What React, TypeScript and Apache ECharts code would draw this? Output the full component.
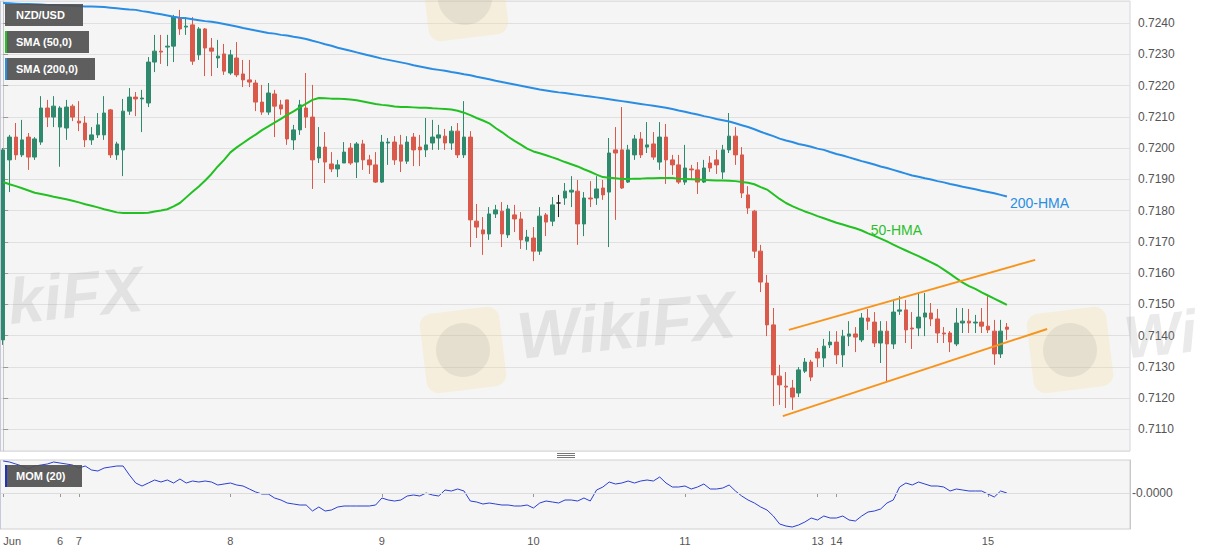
import React, { useEffect, useRef } from "react";
import * as echarts from "echarts";

const FONT = '"Liberation Sans", Arial, Helvetica, sans-serif';

// Hourly slots on the category axis (filled + empty right margin)
const SLOT_COUNT = 179;

// Day tick labels: [slot index, label]
const dayTicks: [number, string][] = [
  [0, "Jun"], [9, "6"], [12, "7"], [36, "8"], [60, "9"], [84, "10"],
  [108, "11"], [129, "13"], [132, "14"], [156, "15"],
];

// NZD/USD hourly candles: [open, close, low, high]
const candles: number[][] = [
  [0.71386, 0.71994, 0.7137, 0.72], [0.71962, 0.72035, 0.71859, 0.72042], [0.72035, 0.71978, 0.71962, 0.7208],
  [0.71978, 0.72026, 0.71971, 0.7209], [0.72035, 0.71971, 0.7193, 0.72048], [0.71971, 0.72029, 0.71962, 0.72035],
  [0.72019, 0.72128, 0.7201, 0.72166], [0.72128, 0.72099, 0.72067, 0.72154], [0.72099, 0.72134, 0.72067, 0.72166],
  [0.72067, 0.72128, 0.7194, 0.72134], [0.72064, 0.72131, 0.72026, 0.72154], [0.72134, 0.72099, 0.72086, 0.7214],
  [0.72086, 0.7208, 0.72054, 0.7215], [0.7208, 0.72026, 0.72003, 0.72102], [0.72026, 0.72042, 0.7201, 0.72067],
  [0.72042, 0.72074, 0.72032, 0.72112], [0.72042, 0.72112, 0.72026, 0.72166], [0.72122, 0.71978, 0.71968, 0.72125],
  [0.71978, 0.72013, 0.71962, 0.7202], [0.71994, 0.72118, 0.7191, 0.72157], [0.72118, 0.72163, 0.72106, 0.72192],
  [0.72163, 0.72157, 0.72102, 0.72179], [0.72157, 0.7216, 0.72051, 0.72186], [0.72144, 0.72275, 0.72131, 0.72291],
  [0.72275, 0.7231, 0.72243, 0.72362], [0.7231, 0.72307, 0.72269, 0.72362], [0.72323, 0.72326, 0.72262, 0.72362],
  [0.72326, 0.72419, 0.72275, 0.72426], [0.72416, 0.72381, 0.72362, 0.72442], [0.72387, 0.7239, 0.72362, 0.72419],
  [0.72394, 0.72278, 0.72266, 0.72419], [0.72298, 0.72381, 0.72282, 0.72387], [0.72381, 0.7232, 0.7223, 0.72384],
  [0.7232, 0.7231, 0.7223, 0.72352], [0.72288, 0.72294, 0.72256, 0.72346], [0.72301, 0.72246, 0.72234, 0.72333],
  [0.7224, 0.72298, 0.72234, 0.72314], [0.72288, 0.72234, 0.72227, 0.72339], [0.72237, 0.72218, 0.72195, 0.72282],
  [0.72218, 0.72211, 0.72195, 0.72282], [0.72208, 0.72147, 0.72118, 0.72218], [0.72147, 0.72115, 0.72106, 0.72202],
  [0.72115, 0.72176, 0.72106, 0.72208], [0.72173, 0.72134, 0.72035, 0.72186], [0.72138, 0.72125, 0.72106, 0.72154],
  [0.72154, 0.72029, 0.7201, 0.72154], [0.72026, 0.72058, 0.71994, 0.72074], [0.72058, 0.72138, 0.72042, 0.72154],
  [0.72128, 0.72099, 0.72064, 0.7224], [0.72099, 0.71962, 0.71869, 0.72202], [0.71968, 0.72003, 0.71952, 0.72067],
  [0.72003, 0.71955, 0.71888, 0.72051], [0.71949, 0.71933, 0.71923, 0.71987], [0.71933, 0.71946, 0.71907, 0.71962],
  [0.71952, 0.71987, 0.71952, 0.72019], [0.72, 0.71952, 0.71946, 0.72016], [0.71955, 0.72013, 0.71904, 0.72019],
  [0.72013, 0.71962, 0.7193, 0.72026], [0.71962, 0.71946, 0.71917, 0.71978], [0.71946, 0.71891, 0.71888, 0.71987],
  [0.71891, 0.72019, 0.71888, 0.72042], [0.72016, 0.72019, 0.71946, 0.72032], [0.72019, 0.71962, 0.71946, 0.72038],
  [0.7201, 0.71958, 0.71923, 0.72042], [0.71958, 0.72019, 0.71949, 0.72038], [0.72035, 0.71994, 0.71942, 0.72048],
  [0.72003, 0.71994, 0.71942, 0.72042], [0.71994, 0.7201, 0.71971, 0.72096], [0.72016, 0.72035, 0.71994, 0.7209],
  [0.72032, 0.72042, 0.71994, 0.72074], [0.72038, 0.72016, 0.71994, 0.72061], [0.72016, 0.72054, 0.71994, 0.7207],
  [0.72054, 0.71978, 0.71968, 0.7208], [0.71978, 0.72035, 0.71968, 0.7215], [0.72035, 0.7177, 0.71683, 0.72054],
  [0.71766, 0.71747, 0.71712, 0.71821], [0.71738, 0.71725, 0.71658, 0.71779], [0.71725, 0.71789, 0.71706, 0.71811],
  [0.71789, 0.71802, 0.71776, 0.71818], [0.71798, 0.71725, 0.71683, 0.71827], [0.71722, 0.71805, 0.71712, 0.71818],
  [0.71786, 0.71773, 0.71731, 0.71818], [0.71773, 0.71706, 0.71677, 0.71795], [0.71702, 0.71715, 0.71674, 0.71738],
  [0.71712, 0.7167, 0.71638, 0.71747], [0.7167, 0.71782, 0.71658, 0.71811], [0.71786, 0.71763, 0.71718, 0.71792],
  [0.71766, 0.71818, 0.7175, 0.71843], [0.71824, 0.71824, 0.71779, 0.7185], [0.7184, 0.71862, 0.71818, 0.71888],
  [0.71859, 0.71865, 0.71811, 0.7191], [0.71862, 0.71757, 0.7169, 0.71898], [0.71757, 0.7184, 0.71718, 0.71859],
  [0.7184, 0.71837, 0.71811, 0.71894], [0.7184, 0.71869, 0.71818, 0.7191], [0.71872, 0.7185, 0.71834, 0.71898],
  [0.71859, 0.71984, 0.71683, 0.72032], [0.71994, 0.71984, 0.7177, 0.72067], [0.71994, 0.71872, 0.71869, 0.72131],
  [0.71891, 0.71994, 0.71888, 0.7201], [0.71978, 0.72029, 0.71962, 0.72042], [0.72029, 0.71978, 0.71968, 0.72051],
  [0.72003, 0.7201, 0.71984, 0.72083], [0.72013, 0.71971, 0.71962, 0.72051], [0.71955, 0.72035, 0.7193, 0.72083],
  [0.72035, 0.71962, 0.71885, 0.72077], [0.71962, 0.71946, 0.71914, 0.71978], [0.71946, 0.71891, 0.71885, 0.71978],
  [0.71891, 0.71936, 0.71882, 0.7201], [0.71933, 0.7193, 0.71898, 0.71946], [0.7193, 0.71891, 0.71853, 0.71955],
  [0.71891, 0.71936, 0.71888, 0.71962], [0.71952, 0.71936, 0.71923, 0.71974], [0.71962, 0.71946, 0.71917, 0.71994],
  [0.71923, 0.71994, 0.71901, 0.7201], [0.71994, 0.72038, 0.71984, 0.72112], [0.72038, 0.71978, 0.71946, 0.72067],
  [0.71978, 0.71856, 0.7184, 0.72003], [0.7185, 0.71808, 0.71789, 0.71878], [0.71798, 0.7167, 0.71648, 0.71802],
  [0.7167, 0.71571, 0.71539, 0.7169], [0.71568, 0.71434, 0.71398, 0.71594], [0.71434, 0.71274, 0.71174, 0.71488],
  [0.7127, 0.71242, 0.71178, 0.71306], [0.71238, 0.71235, 0.71168, 0.71283], [0.71232, 0.71203, 0.71162, 0.71258],
  [0.71216, 0.7129, 0.71203, 0.71299], [0.71286, 0.71315, 0.7128, 0.71328], [0.71315, 0.71267, 0.71254, 0.71322],
  [0.71347, 0.71328, 0.71299, 0.7136], [0.71328, 0.71366, 0.71299, 0.71389], [0.7137, 0.71379, 0.7136, 0.71414],
  [0.71379, 0.71338, 0.71309, 0.71414], [0.71338, 0.71398, 0.71299, 0.71418], [0.71398, 0.71405, 0.71366, 0.71446],
  [0.71405, 0.71395, 0.71347, 0.71427], [0.71386, 0.71456, 0.71379, 0.71472], [0.71456, 0.71446, 0.71418, 0.71485],
  [0.71443, 0.71376, 0.71363, 0.71475], [0.71376, 0.71414, 0.71312, 0.71446], [0.71414, 0.71373, 0.71254, 0.71446],
  [0.71373, 0.71475, 0.71357, 0.71514], [0.71478, 0.71482, 0.71466, 0.71526], [0.71482, 0.71418, 0.71376, 0.71514],
  [0.71424, 0.71421, 0.71357, 0.71475], [0.71424, 0.71459, 0.71398, 0.71536], [0.71459, 0.71472, 0.71398, 0.71536],
  [0.71472, 0.71453, 0.7143, 0.71504], [0.71453, 0.71408, 0.71376, 0.71485], [0.71408, 0.71405, 0.71376, 0.71427],
  [0.71408, 0.71379, 0.71347, 0.71414], [0.71373, 0.7144, 0.71366, 0.71488], [0.7144, 0.71446, 0.71408, 0.71488],
  [0.71446, 0.7144, 0.71408, 0.71485], [0.7144, 0.71443, 0.71408, 0.71466], [0.71443, 0.7143, 0.71408, 0.71488],
  [0.7143, 0.71418, 0.71408, 0.71526], [0.71414, 0.71341, 0.71306, 0.7145], [0.71341, 0.71414, 0.71328, 0.7145],
  [0.71427, 0.7142, 0.71386, 0.7144],
];

// 50-period moving average (labelled 50-HMA)
const sma50: number[] = [
  0.71891, 0.71884, 0.71878, 0.71871, 0.71864, 0.71857, 0.71853, 0.71849, 0.71844, 0.7184,
  0.71836, 0.71831, 0.71826, 0.7182, 0.71815, 0.7181, 0.71804, 0.71799, 0.71794, 0.71792,
  0.71792, 0.71792, 0.71792, 0.71793, 0.71797, 0.718, 0.71804, 0.71813, 0.71824, 0.71842,
  0.7186, 0.71877, 0.71896, 0.71917, 0.71941, 0.71962, 0.71986, 0.72002, 0.72016, 0.7203,
  0.72043, 0.72057, 0.72069, 0.72081, 0.72093, 0.72106, 0.72117, 0.7213, 0.72142, 0.72154,
  0.7216, 0.72159, 0.72158, 0.72158, 0.72157, 0.72155, 0.72153, 0.72149, 0.72145, 0.72141,
  0.72138, 0.72136, 0.72133, 0.72131, 0.72131, 0.7213, 0.72129, 0.72129, 0.72127, 0.72126,
  0.72125, 0.72123, 0.72119, 0.72113, 0.72105, 0.72096, 0.72088, 0.72079, 0.72064, 0.72051,
  0.72036, 0.72023, 0.72011, 0.71998, 0.71989, 0.71983, 0.71977, 0.7197, 0.71963, 0.71955,
  0.71948, 0.71941, 0.71932, 0.71924, 0.71915, 0.71907, 0.71905, 0.71903, 0.71901, 0.71901,
  0.71902, 0.71902, 0.71903, 0.71903, 0.71904, 0.71904, 0.71904, 0.71902, 0.71901, 0.719,
  0.71899, 0.71898, 0.71897, 0.71896, 0.71896, 0.71895, 0.71894, 0.71891, 0.71889, 0.71884,
  0.71875, 0.71867, 0.71852, 0.71837, 0.71824, 0.71814, 0.71805, 0.71797, 0.7179, 0.71782,
  0.71775, 0.71768, 0.71761, 0.71755, 0.71749, 0.71743, 0.71736, 0.71727, 0.71719, 0.7171,
  0.71701, 0.71691, 0.71681, 0.71672, 0.71663, 0.71654, 0.71644, 0.71634, 0.71624, 0.71611,
  0.71597, 0.71583, 0.71569, 0.71558, 0.71549, 0.71538, 0.71528, 0.71518, 0.71508, 0.71498,
];

// 200-period moving average (labelled 200-HMA)
const sma200: number[] = [
  0.72464, 0.72463, 0.72462, 0.72461, 0.72461, 0.7246, 0.72459, 0.72458, 0.72458, 0.72457,
  0.72456, 0.72455, 0.72454, 0.72453, 0.72453, 0.72452, 0.72451, 0.72449, 0.72447, 0.72445,
  0.72443, 0.72442, 0.72438, 0.72435, 0.72431, 0.72428, 0.72424, 0.7242, 0.72417, 0.72415,
  0.72412, 0.72409, 0.72406, 0.72404, 0.72401, 0.72397, 0.72393, 0.72389, 0.72384, 0.7238,
  0.72376, 0.72372, 0.72368, 0.72366, 0.72362, 0.7236, 0.72356, 0.72353, 0.72349, 0.72343,
  0.72338, 0.72332, 0.72327, 0.72321, 0.72316, 0.72311, 0.72306, 0.72301, 0.72296, 0.72291,
  0.72286, 0.72282, 0.72278, 0.72274, 0.7227, 0.72265, 0.72261, 0.72257, 0.72253, 0.7225,
  0.72247, 0.72243, 0.7224, 0.72236, 0.72233, 0.72228, 0.72224, 0.7222, 0.72215, 0.72211,
  0.72207, 0.72203, 0.72199, 0.72195, 0.72191, 0.72187, 0.72184, 0.72181, 0.72178, 0.72176,
  0.72173, 0.7217, 0.72167, 0.72165, 0.72162, 0.72159, 0.72156, 0.72153, 0.7215, 0.72147,
  0.72144, 0.72141, 0.72138, 0.72135, 0.72132, 0.72129, 0.72125, 0.7212, 0.72116, 0.72111,
  0.72107, 0.72102, 0.72098, 0.72093, 0.72089, 0.72085, 0.72079, 0.72073, 0.72067, 0.7206,
  0.72052, 0.72045, 0.72038, 0.7203, 0.72024, 0.72019, 0.72013, 0.72009, 0.72004, 0.71998,
  0.71994, 0.71987, 0.71981, 0.71976, 0.7197, 0.71964, 0.71958, 0.71953, 0.71947, 0.71941,
  0.71936, 0.7193, 0.71924, 0.71918, 0.71912, 0.71908, 0.71903, 0.71899, 0.71894, 0.7189,
  0.71885, 0.71881, 0.71876, 0.71872, 0.71868, 0.71863, 0.71859, 0.71855, 0.7185, 0.71845,
];

// Momentum (20)
const momentum: number[] = [
  0.0032, 0.0031, 0.0029, 0.0027, 0.0024, 0.0027, 0.0028, 0.0029, 0.0031, 0.003,
  0.0029, 0.0028, 0.0025, 0.0027, 0.0023, 0.0022, 0.0025, 0.0026, 0.0027, 0.0027,
  0.0018, 0.001, 0.0007, 0.001, 0.0013, 0.0011, 0.0013, 0.001, 0.0014, 0.001,
  0.0012, 0.0011, 0.0012, 0.0011, 0.0008, 0.0009, 0.001, 0.0008, 0.0007, 0.0004,
  0.0001, -0.0001, -0.0001, -0.0005, -0.0007, -0.001, -0.0011, -0.0012, -0.0012, -0.0018,
  -0.0014, -0.0018, -0.0017, -0.0014, -0.0013, -0.0013, -0.0013, -0.0013, -0.0013, -0.0012,
  -0.0005, -0.0007, -0.0008, -0.0007, -0.0003, -0.0002, -0.0003, 0.0, -0.0002, -0.0003,
  0.0003, 0.0002, 0.0004, 0.0002, -0.0008, -0.0009, -0.0011, -0.001, -0.0011, -0.0012,
  -0.0012, -0.0013, -0.0013, -0.0012, -0.0015, -0.001, -0.0008, -0.0009, -0.001, -0.0007,
  -0.0007, -0.0008, -0.0005, -0.0008, 0.0003, 0.0006, 0.0011, 0.0009, 0.001, 0.0012,
  0.001, 0.0012, 0.0013, 0.0012, 0.0016, 0.001, 0.0006, 0.0006, 0.0007, 0.0004,
  0.0006, 0.0009, 0.0004, 0.0004, 0.0005, 0.0008, 0.0002, -0.0003, -0.0007, -0.001,
  -0.0014, -0.0017, -0.0023, -0.0031, -0.0033, -0.0034, -0.0032, -0.0029, -0.0025, -0.0027,
  -0.0023, -0.0025, -0.0025, -0.0023, -0.0027, -0.0028, -0.0023, -0.0019, -0.0018, -0.0016,
  -0.001, -0.0007, 0.0006, 0.001, 0.0008, 0.0011, 0.0009, 0.0007, 0.0007, 0.0006,
  0.0002, 0.0004, 0.0003, 0.0002, 0.0002, 0.0002, -0.0001, -0.0004, 0.0002, 0.0,
];

const lastPrice = 0.7142;
// Channel trend lines: [slot position, price]
const upperTrend: number[][] = [[124.46, 0.71418], [163.48, 0.71642]];
const lowerTrend: number[][] = [[123.5, 0.71142], [165.37, 0.71421]];
const hma50LabelAt: number[] = [141.5, 0.71738];

const priceMin = 0.710304;
const priceMax = 0.724704;
const momMin = -0.0036;
const momMax = 0.0033;

const UP = "#2f8a6d";
const DOWN = "#d95a4a";

function buildOption(): any {
  const tickMap = new Map<number, string>(dayTicks);
  const categories = Array.from({ length: SLOT_COUNT }, (_, i) => "s" + i);
  const labelInterval = (index: number) => tickMap.has(index);

  const candleData = candles.map((c) =>
    c[0] === c[1]
      ? { value: c, itemStyle: { color: "#222", borderColor: "#222", color0: "#222", borderColor0: "#222" } }
      : c
  );

  const legendBox = (y: number, w: number, label: string, strip: string | null) => ({
    type: "group",
    children: [
      { type: "rect", shape: { x: 5, y, width: w, height: 22 }, style: { fill: "rgba(80,80,80,0.92)" }, z: 10 },
      ...(strip ? [{ type: "rect", shape: { x: 5, y, width: 2, height: 22 }, style: { fill: strip }, z: 11 }] : []),
      {
        type: "text", x: 16, y: y + 11, z: 12,
        style: { text: label, fill: "#ffffff", font: `bold 11px ${FONT}`, verticalAlign: "middle" },
      },
    ],
  });

  const WM_TEXT = "rgba(150,150,150,0.2)";
  const logo = (cx: number, cy: number) => [
    {
      type: "rect", x: cx, y: cy, rotation: 0.12, z: 1,
      shape: { x: -40, y: -40, width: 80, height: 80, r: 12 },
      style: { fill: "rgba(245,215,130,0.22)" },
    },
    {
      type: "circle", x: cx, y: cy, z: 1,
      shape: { cx: 0, cy: 0, r: 27 },
      style: { fill: "rgba(150,150,150,0.16)" },
    },
  ];
  const wmText = (x: number, y: number, text: string, size: number) => ({
    type: "text", x, y, rotation: 0.1, z: 1,
    style: { text, fill: WM_TEXT, font: `italic bold ${size}px ${FONT}`, align: "left", verticalAlign: "middle" },
  });

  return {
    animation: false,
    backgroundColor: "#ffffff",
    textStyle: { fontFamily: FONT },
    grid: [
      { left: -3, top: 1, width: 1133, height: 450, show: true, backgroundColor: "#f5f5f5", borderColor: "#d4d4de", borderWidth: 1 },
      { left: -3, top: 460, width: 1133, height: 69, show: true, backgroundColor: "#f5f5f5", borderColor: "#d0d0d0", borderWidth: 1 },
    ],
    xAxis: [
      {
        type: "category", gridIndex: 0, data: categories, boundaryGap: true,
        axisLine: { show: false }, axisTick: { show: false }, axisLabel: { show: false }, splitLine: { show: false },
      },
      { type: "value", gridIndex: 0, min: -0.5, max: SLOT_COUNT - 0.5, show: false },
      {
        type: "category", gridIndex: 1, data: categories, boundaryGap: true,
        axisLine: { show: false },
        axisTick: { show: true, alignWithLabel: true, interval: labelInterval, length: 4, lineStyle: { color: "#999" } },
        axisLabel: {
          interval: labelInterval, color: "#555", fontSize: 11, margin: 6,
          formatter: (_v: string, idx: number) => (idx === 0 ? "{first|Jun}" : tickMap.get(idx) || ""),
          rich: { first: { padding: [0, 0, 0, 18], fontSize: 11, color: "#555" } },
        },
        splitLine: { show: false },
      },
    ],
    yAxis: [
      {
        type: "value", gridIndex: 0, position: "right", min: priceMin, max: priceMax, splitNumber: 14,
        axisLine: { show: true, lineStyle: { color: "#c8c8c8" } },
        axisTick: { show: true, length: 5, lineStyle: { color: "#999" } },
        axisLabel: {
          color: "#555", fontSize: 12, margin: 8, showMinLabel: false, showMaxLabel: false,
          formatter: (v: number) => v.toFixed(4),
        },
        splitLine: { show: true, lineStyle: { color: "#e0e0e0", width: 1 } },
      },
      {
        type: "value", gridIndex: 1, position: "right", min: momMin, max: momMax, splitNumber: 2,
        axisLine: { show: true, lineStyle: { color: "#c8c8c8" } },
        axisTick: { show: false },
        axisLabel: {
          color: "#555", fontSize: 12, margin: 2, showMinLabel: false, showMaxLabel: false,
          formatter: (v: number) => (Math.abs(v) < 1e-7 ? "-0.0000" : ""),
        },
        splitLine: { show: false },
      },
    ],
    series: [
      {
        type: "candlestick", xAxisIndex: 0, yAxisIndex: 0, data: candleData, barWidth: 4, z: 3,
        itemStyle: { color: UP, color0: DOWN, borderColor: UP, borderColor0: DOWN, borderWidth: 1 },
        markLine: {
          silent: true, symbol: ["none", "none"], z: 6,
          lineStyle: { color: "#2b3a52", width: 1, type: "solid" },
          label: {
            show: true, position: "end", distance: 4, formatter: lastPrice.toFixed(6),
            color: "#ffffff", fontWeight: "bold", fontSize: 12, backgroundColor: "#2b3a55",
            padding: [2, 3, 1, 3], borderRadius: 2,
          },
          data: [{ yAxis: lastPrice }],
        },
      },
      {
        type: "line", xAxisIndex: 1, yAxisIndex: 0, z: 4,
        data: sma200.map((v, i) => [i, v]), showSymbol: false, smooth: false,
        lineStyle: { color: "#2a8de3", width: 2 },
        endLabel: { show: true, formatter: "200-HMA", color: "#2a8de3", fontSize: 14, distance: 3, offset: [0, 7] },
      },
      {
        type: "line", xAxisIndex: 1, yAxisIndex: 0, z: 4,
        data: sma50.map((v, i) => [i, v]), showSymbol: false,
        lineStyle: { color: "#22c022", width: 2 },
        markPoint: {
          symbol: "rect", symbolSize: 1, silent: true,
          itemStyle: { color: "rgba(0,0,0,0)" },
          label: { show: true, position: "inside", formatter: "50-HMA", color: "#2bbf2b", fontSize: 14 },
          data: [{ coord: hma50LabelAt }],
        },
      },
      {
        type: "line", xAxisIndex: 1, yAxisIndex: 0, z: 5, data: upperTrend, showSymbol: false,
        lineStyle: { color: "#f7941d", width: 2 },
      },
      {
        type: "line", xAxisIndex: 1, yAxisIndex: 0, z: 5, data: lowerTrend, showSymbol: false,
        lineStyle: { color: "#f7941d", width: 2 },
      },
      {
        type: "line", xAxisIndex: 2, yAxisIndex: 1, data: momentum, showSymbol: false, z: 4,
        lineStyle: { color: "#2b3fd0", width: 1 },
        markLine: {
          silent: true, symbol: ["none", "none"], label: { show: false },
          lineStyle: { color: "#dcdcdc", width: 1, type: "solid" },
          data: [{ yAxis: 0 }],
        },
      },
    ],
    graphic: [
      ...logo(463, 350),
      wmText(517, 336, "WikiFX", 66),
      wmText(8, 302, "kiFX", 64),
      ...logo(465, -2),
      ...logo(1070, 350),
      wmText(1124, 338, "Wi", 60),
      legendBox(4, 78, "NZD/USD", null),
      legendBox(31, 84, "SMA (50,0)", "#22c022"),
      legendBox(58, 90, "SMA (200,0)", "#2a8de3"),
      legendBox(465, 77, "MOM (20)", "#2233bb"),
      { type: "line", shape: { x1: 0.5, y1: 1, x2: 0.5, y2: 451 }, style: { stroke: "#c9c9dc", lineWidth: 1 }, z: 9 },
      { type: "line", shape: { x1: 0.5, y1: 460, x2: 0.5, y2: 529 }, style: { stroke: "#c9c9dc", lineWidth: 1 }, z: 9 },
      { type: "line", shape: { x1: 557, y1: 453.5, x2: 575, y2: 453.5 }, style: { stroke: "#777", lineWidth: 1 } },
      { type: "line", shape: { x1: 557, y1: 455.5, x2: 575, y2: 455.5 }, style: { stroke: "#777", lineWidth: 1 } },
      { type: "line", shape: { x1: 557, y1: 457.5, x2: 575, y2: 457.5 }, style: { stroke: "#777", lineWidth: 1 } },
    ],
  };
}

export default function App() {
  const ref = useRef<HTMLDivElement>(null);
  useEffect(() => {
    if (!ref.current) return;
    const chart = echarts.init(ref.current, undefined, { renderer: "svg" });
    chart.setOption(buildOption());
    return () => chart.dispose();
  }, []);
  return (
    <div style={{ position: "absolute", left: 0, top: 0, width: 1207, height: 555, background: "#ffffff" }}>
      <div ref={ref} style={{ width: 1207, height: 555 }} />
    </div>
  );
}
